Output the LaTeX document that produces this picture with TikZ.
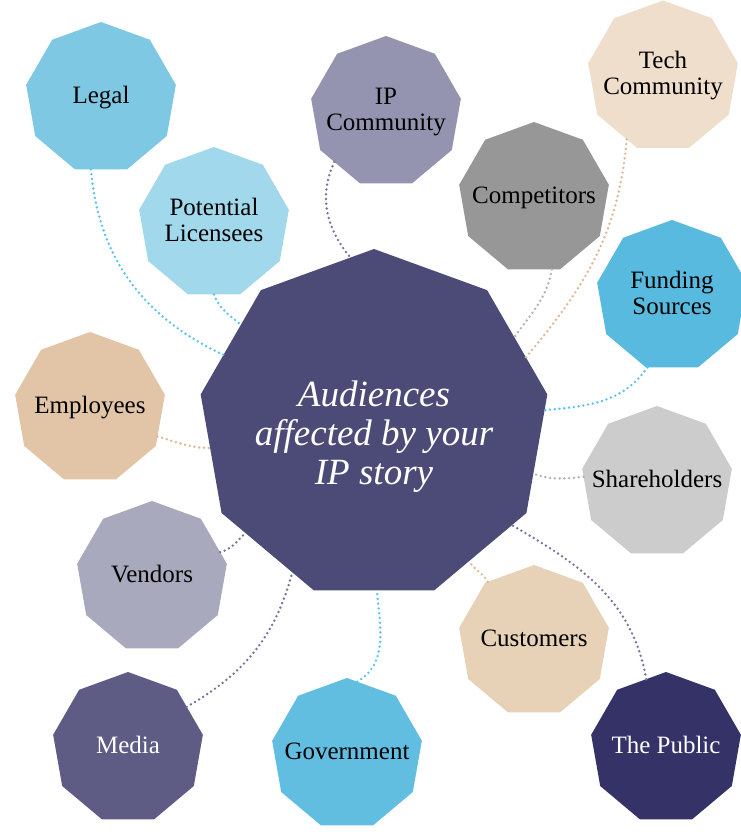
\documentclass[tikz,border=0pt]{standalone}
\usepackage{fontspec}
\setmainfont{Liberation Serif}
\usetikzlibrary{shapes.geometric}
\definecolor{cLegal}{HTML}{7EC8E4}
\definecolor{cLic}{HTML}{A2D8EC}
\definecolor{cIPC}{HTML}{9594B0}
\definecolor{cTech}{HTML}{F0DECC}
\definecolor{cComp}{HTML}{979797}
\definecolor{cFund}{HTML}{58BADE}
\definecolor{cEmp}{HTML}{E2C4A6}
\definecolor{cShare}{HTML}{CCCCCC}
\definecolor{cVend}{HTML}{A9A9BE}
\definecolor{cMedia}{HTML}{5E5C85}
\definecolor{cGov}{HTML}{62BEE0}
\definecolor{cCust}{HTML}{E8D2B7}
\definecolor{cPub}{HTML}{343266}
\definecolor{cCenter}{HTML}{4C4B78}
\definecolor{lBlue}{HTML}{55C4EE}
\definecolor{lTan}{HTML}{DEB892}
\definecolor{lPurple}{HTML}{77759C}
\definecolor{lGray}{HTML}{B2B2B2}
\newcommand{\satlabel}[1]{\raisebox{-2pt}{\makebox[0pt][c]{\begin{tabular}{@{}c@{}}#1\end{tabular}}}}
\begin{document}
\begin{tikzpicture}[x=1pt,y=1pt,
  nona/.style={regular polygon, regular polygon sides=9, minimum size=152pt,
    inner sep=0pt, outer sep=0pt, draw=none,
    font=\fontsize{25}{26}\selectfont, text=black},
  bignona/.style={regular polygon, regular polygon sides=9, minimum size=352pt,
    inner sep=0pt, outer sep=0pt, draw=none, fill=cCenter},
  centertext/.style={align=center, text=white, inner sep=0pt,
    font=\fontsize{37}{39}\selectfont\itshape},
  link/.style={line width=2.7pt, line cap=round, dash pattern=on 0pt off 4.8pt}
]
\useasboundingbox (0,0) rectangle (740,840);

% central node
\node[bignona] (c) at (374,415) {};
\node[centertext] (ctext) at (374,403) {Audiences\\affected by your\\IP story};

% satellites
\node[nona, fill=cLegal] (legal) at (101,742) {\satlabel{Legal}};
\node[nona, fill=cLic] (lic) at (214,617) {\satlabel{Potential\\Licensees}};
\node[nona, fill=cIPC] (ipc) at (386,728) {\satlabel{IP\\Community}};
\node[nona, fill=cTech] (tech) at (663,763.5) {\satlabel{Tech\\Community}};
\node[nona, fill=cComp] (comp) at (534,642) {\satlabel{Competitors}};
\node[nona, fill=cFund] (fund) at (672,544) {\satlabel{Funding\\Sources}};
\node[nona, fill=cEmp] (emp) at (90,432) {\satlabel{Employees}};
\node[nona, fill=cShare] (share) at (657,358) {\satlabel{Shareholders}};
\node[nona, fill=cVend] (vend) at (152,263) {\satlabel{Vendors}};
\node[nona, fill=cMedia, text=white] (media) at (128,92) {\satlabel{Media}};
\node[nona, fill=cGov] (gov) at (347,86) {\satlabel{Government}};
\node[nona, fill=cCust] (cust) at (534,199) {\satlabel{Customers}};
\node[nona, fill=cPub, text=white] (pub) at (666,92) {\satlabel{The Public}};

% connectors
\draw[link, lBlue] (legal.-98) to[out=-85, in=155] (c.155);
\draw[link, lBlue] (lic.-90) to[out=-70, in=140] (c.143);
\draw[link, lPurple] (ipc.-136) to[out=-115, in=130] (c.98);
\draw[link, lTan] (tech.-120) to[out=-95, in=50] (c.24);
\draw[link, lGray] (comp.-76) to[out=-100, in=55] (c.32);
\draw[link, lBlue] (fund.-109) to[out=-125, in=5] (c.5);
\draw[link, lGray] (share.176) to[out=185, in=-20] (c.-17);
\draw[link, lPurple] (pub.106) to[out=100, in=-30] (c.-36);
\draw[link, lTan] (cust.128) to[out=120, in=-60] (c.-55);
\draw[link, lBlue] (gov.82) to[out=30, in=-85] (c.-89);
\draw[link, lPurple] (media.35) to[out=30, in=-105] (c.-119);
\draw[link, lPurple] (vend.20) to[out=15, in=-135] (c.-140);
\draw[link, lTan] (emp.-23) to[out=-15, in=180] (c.-172);
\end{tikzpicture}
\end{document}
